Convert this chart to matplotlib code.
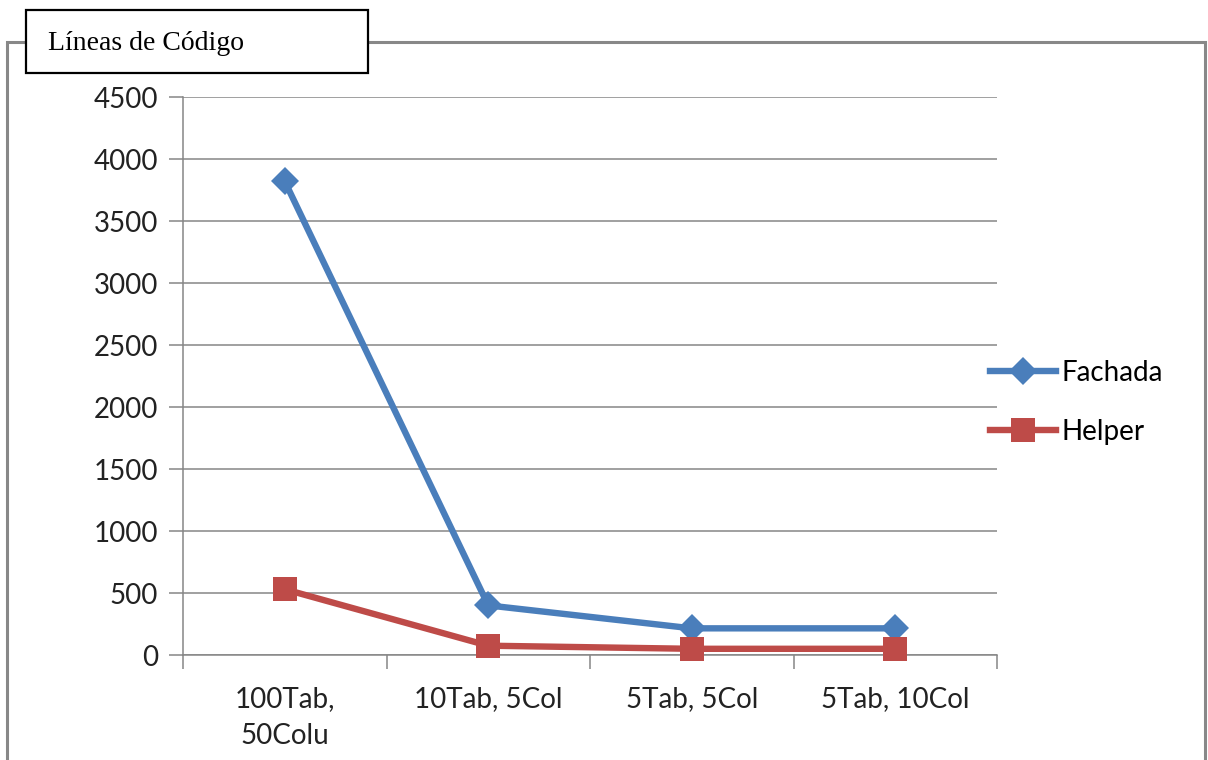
import matplotlib.pyplot as plt
from matplotlib.patches import Rectangle
import numpy as np

categories = ['100Tab,\n50Colu', '10Tab, 5Col', '5Tab, 5Col', '5Tab, 10Col']
fachada = [3820, 400, 215, 215]
helper = [530, 75, 50, 50]
yticks = [0, 500, 1000, 1500, 2000, 2500, 3000, 3500, 4000, 4500]

W, H = 1208, 760
fig = plt.figure(figsize=(W / 100, H / 100), dpi=100)
fig.patch.set_facecolor('white')

# outer chart frame
fig.patches.append(Rectangle((7 / W, -0.01), 1198 / W, (H - 42) / H + 0.01,
                             transform=fig.transFigure, fill=False,
                             edgecolor='#888888', linewidth=2.2, zorder=0))

ax = fig.add_axes([183 / W, 1 - 655 / H, 814 / W, 558 / H])
x = np.arange(len(categories))
ax.plot(x, fachada, color='#4a7ebb', linewidth=4.6, marker='D', markersize=14,
        markeredgewidth=0, label='Fachada', clip_on=False, zorder=3)
ax.plot(x, helper, color='#be4b48', linewidth=4.6, marker='s', markersize=17,
        markeredgewidth=0, label='Helper', clip_on=False, zorder=3)

ax.set_xlim(-0.5, 3.5)
ax.set_ylim(0, 4500)
ax.set_yticks(yticks)
ax.yaxis.grid(True, color='#868686', linewidth=1.1)
ax.set_axisbelow(True)
for s in ['top', 'right']:
    ax.spines[s].set_visible(False)
for s in ['left', 'bottom']:
    ax.spines[s].set_color('#868686')
    ax.spines[s].set_linewidth(1.1)

ax.set_xticks(x)
ax.set_xticklabels(categories, fontsize=20, family='Lato', color='#222222',
                   linespacing=1.55)
ax.tick_params(axis='x', length=0, pad=22)
ax.set_xticks(np.arange(-0.5, 4.0, 1.0), minor=True)
ax.tick_params(axis='x', which='minor', length=10, color='#868686', width=1.1)
ax.tick_params(axis='y', length=10, color='#868686', width=1.1, pad=8)
for lbl in ax.get_yticklabels():
    lbl.set_fontsize(20)
    lbl.set_family('Lato')
    lbl.set_color('#222222')

leg = ax.legend(loc='center left', bbox_to_anchor=(0.991, 0.453),
                frameon=False, prop={'family': 'Lato', 'size': 20},
                handlelength=2.4, labelspacing=1.2, handletextpad=0.2,
                borderpad=0, borderaxespad=0)

# title box
fig.patches.append(Rectangle((26 / W, 1 - 73 / H), 342 / W, 63 / H,
                             transform=fig.transFigure, facecolor='white',
                             edgecolor='black', linewidth=1.6, zorder=5))
fig.text(48 / W, 1 - 43 / H, 'Líneas de Código', fontsize=20,
         family='Liberation Serif', va='center', ha='left', zorder=6)

fig.savefig('out.png', dpi=100)
